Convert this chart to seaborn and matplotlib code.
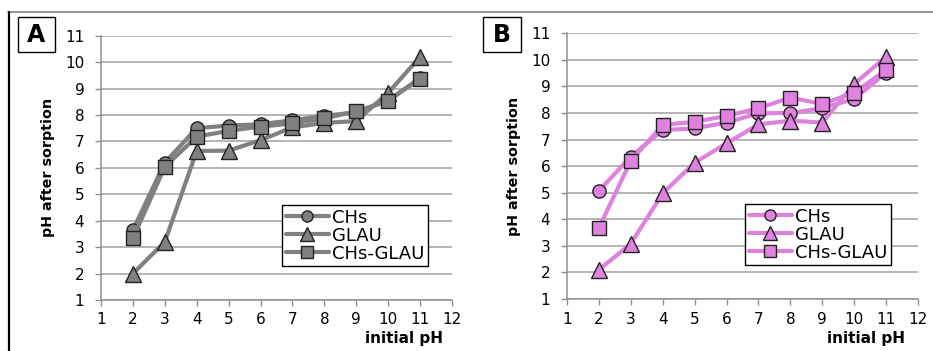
import matplotlib
matplotlib.use("Agg")
import matplotlib.pyplot as plt
import seaborn as sns
import pandas as pd
from matplotlib.lines import Line2D
from matplotlib.patches import Rectangle

sns.set_style("white")
plt.rcParams['font.family'] = ['DejaVu Sans']
plt.rcParams['text.color'] = 'black'
plt.rcParams['xtick.labelcolor'] = 'black'
plt.rcParams['ytick.labelcolor'] = 'black'

initial_ph = [2, 3, 4, 5, 6, 7, 8, 9, 10, 11]
series_names = ["CHs", "GLAU", "CHs-GLAU"]

a_chs = [3.65, 6.2, 7.5, 7.6, 7.65, 7.8, 7.97, 8.1, 8.55, 9.4]
a_glau = [2.0, 3.2, 6.64, 6.65, 7.05, 7.53, 7.7, 7.77, 8.84, 10.2]
a_chsglau = [3.33, 6.04, 7.18, 7.4, 7.56, 7.68, 7.87, 8.14, 8.54, 9.37]

b_chs = [5.07, 6.36, 7.36, 7.42, 7.64, 7.99, 8.0, 8.18, 8.53, 9.52]
b_glau = [2.1, 3.08, 4.98, 6.13, 6.86, 7.57, 7.71, 7.64, 9.09, 10.12]
b_chsglau = [3.68, 6.2, 7.55, 7.67, 7.89, 8.18, 8.58, 8.34, 8.77, 9.62]

x_ticks = list(range(1, 13))
y_ticks = list(range(1, 12))
panel_labels = ["A", "B"]
x_label = "initial pH"
y_label = "pH after sorption"

W, H = 933, 351
fig = plt.figure(figsize=(W / 100, H / 100), dpi=100)

# frame lines
fig.add_artist(Line2D([8 / W, 1.0], [1 - 12 / H, 1 - 12 / H], color="#808080", lw=1.2))
fig.add_artist(Line2D([9 / W, 9 / W], [0, 1 - 12 / H], color="black", lw=1.6))

markers = {"CHs": "o", "GLAU": "^", "CHs-GLAU": "s"}
msizes = {"CHs": 9.5, "GLAU": 11, "CHs-GLAU": 9.5}


def make_df(vals):
    rows = []
    for name, v in zip(series_names, vals):
        for x, y in zip(initial_ph, v):
            rows.append({"initial": x, "after": y, "series": name})
    return pd.DataFrame(rows)


def draw_panel(rect, df, color, label, label_box, legend_pos, xlabel_pos, ylabel_x):
    l, t, r, b = rect
    ax = fig.add_axes([l / W, 1 - b / H, (r - l) / W, (b - t) / H])
    for name in series_names:
        sub = df[df["series"] == name]
        sns.lineplot(data=sub, x="initial", y="after", ax=ax, color=color, lw=3,
                     marker=markers[name], markersize=msizes[name],
                     markerfacecolor=color, markeredgecolor="#222222",
                     markeredgewidth=1.0, legend=False, zorder=3)
    ax.set_xlim(1, 12)
    ax.set_ylim(1, 11)
    ax.set_xticks(x_ticks)
    ax.set_yticks(y_ticks)
    ax.set_xlabel("")
    ax.set_ylabel("")
    ax.grid(axis="y", color="#a0a0a0", lw=1.1)
    ax.set_axisbelow(True)
    for s in ["top", "right"]:
        ax.spines[s].set_visible(False)
    for s in ["left", "bottom"]:
        ax.spines[s].set_color("#909090")
        ax.spines[s].set_linewidth(1.1)
    ax.tick_params(axis="both", direction="out", length=4, width=1, color="#909090",
                   labelsize=11, labelcolor="black", left=True, bottom=True)
    ax.tick_params(axis="y", pad=8)
    ax.tick_params(axis="x", pad=5)
    for ln in ax.lines:
        ln.set_clip_on(False)

    handles = [Line2D([], [], color=color, lw=3, marker=markers[n],
                      markersize=msizes[n] - 1.5, markerfacecolor=color, markeredgecolor="#222222",
                      markeredgewidth=1.0) for n in series_names]
    leg = ax.legend(handles, series_names, loc="upper left",
                    bbox_to_anchor=(legend_pos[0] / W, 1 - legend_pos[1] / H),
                    bbox_transform=fig.transFigure, frameon=True, fancybox=False,
                    edgecolor="black", framealpha=1, fontsize=13, handlelength=2.4,
                    handletextpad=0.15, labelspacing=0.0, borderpad=0.2, borderaxespad=0)
    leg.get_frame().set_linewidth(1.0)
    for txt in leg.get_texts():
        txt.set_color("black")

    # panel label box
    bx0, by0, bx1, by1 = label_box
    fig.add_artist(Rectangle((bx0 / W, 1 - by1 / H), (bx1 - bx0) / W, (by1 - by0) / H,
                             transform=fig.transFigure, fill=False, ec="black", lw=1.0))
    fig.text((bx0 + bx1) / 2 / W, 1 - (by0 + by1) / 2 / H, label, ha="center", va="center",
             fontsize=17, fontweight="bold")
    fig.text(xlabel_pos[0] / W, 1 - xlabel_pos[1] / H, x_label, ha="right", va="center",
             fontsize=11, fontweight="bold")
    fig.text(ylabel_x / W, 1 - ((t + b) / 2) / H, y_label, ha="center", va="center",
             rotation=90, fontsize=10.3, fontweight="bold")
    return ax


pal = sns.color_palette(["#808080", "#DE82DE"])

draw_panel((101, 35.7, 452, 300), make_df([a_chs, a_glau, a_chsglau]), pal[0], panel_labels[0],
           (18, 17, 55, 52), (282, 205), (443, 339), 48)
draw_panel((567, 33.3, 918, 299), make_df([b_chs, b_glau, b_chsglau]), pal[1], panel_labels[1],
           (483, 17, 521, 52), (745, 204), (905, 339), 514)

fig.savefig("out.png", dpi=100)
